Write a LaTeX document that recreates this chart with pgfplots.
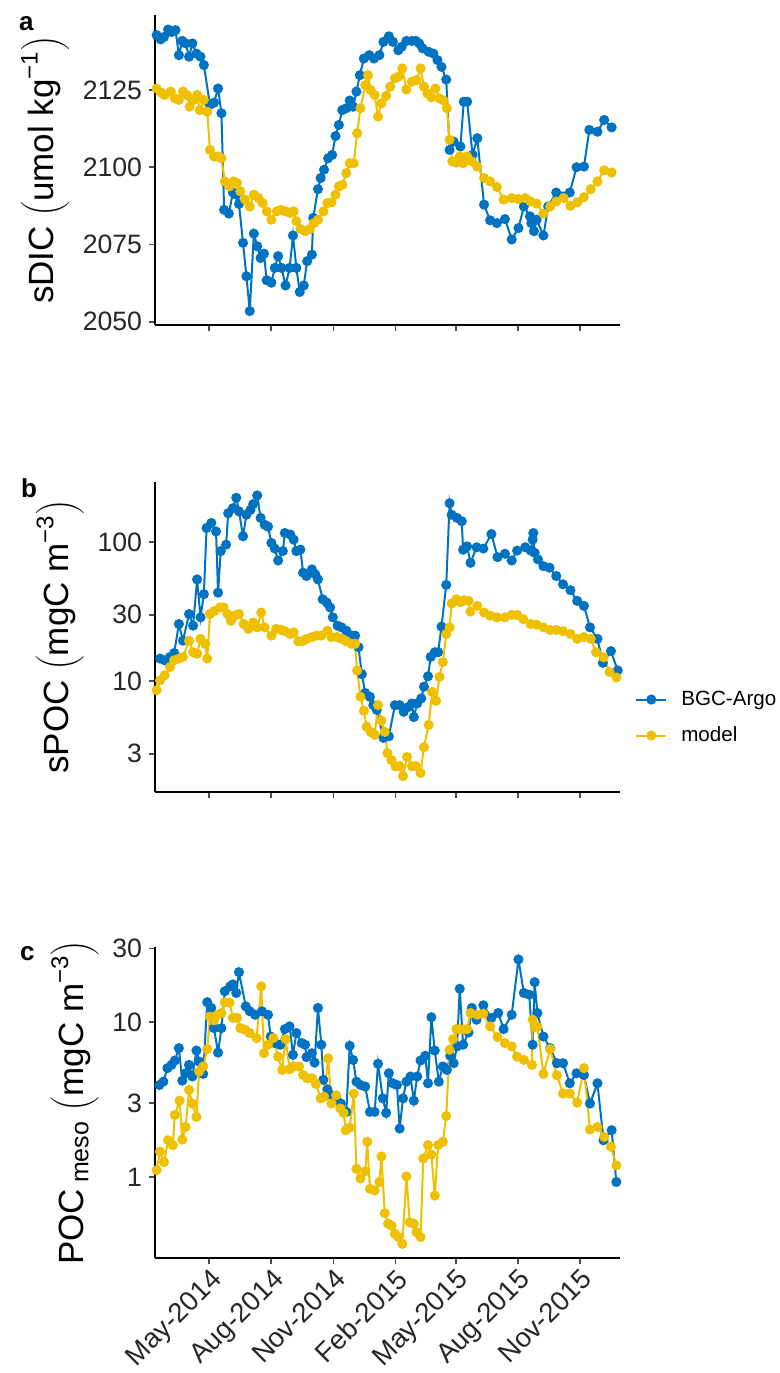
\documentclass[border=0pt]{standalone}
\usepackage{fontspec}
\setmainfont{Liberation Sans}
\usepackage{pgfplots}
\usepackage{pgfplotstable}
\pgfplotsset{compat=1.18}

\definecolor{argo}{RGB}{0,114,194}
\definecolor{model}{RGB}{239,192,0}

% x = days since 1 May 2014
\pgfplotstableread[row sep=\\]{
d v \\
-78 2142.8 \\ -72 2141.4 \\ -67 2142.2 \\ -61 2144.6 \\ -56 2143.8 \\ -50 2144.4 \\
-45 2136.3 \\ -40 2140.9 \\ -35 2140.1 \\ -30 2135.8 \\ -25 2140.1 \\ -19 2136.8 \\
-13 2135.8 \\ -8 2133.1 \\ 1 2120.2 \\ 7 2120.9 \\ 13 2125.5 \\ 18 2117.5 \\
22 2086.2 \\ 29 2085.0 \\ 35 2091.8 \\ 40 2091.1 \\ 44 2088.1 \\ 50 2075.5 \\
55 2064.7 \\ 60 2053.4 \\ 66 2078.5 \\ 71 2074.4 \\ 76 2070.6 \\ 81 2072.0 \\
85 2063.4 \\ 92 2062.6 \\ 97 2067.4 \\ 102 2071.2 \\ 107 2067.4 \\ 113 2061.7 \\
119 2067.4 \\ 124 2077.9 \\ 129 2067.4 \\ 134 2059.6 \\ 140 2061.7 \\ 145 2069.6 \\
152 2071.7 \\ 154 2083.6 \\ 161 2092.9 \\ 165 2096.5 \\ 170 2099.2 \\ 176 2102.9 \\
182 2104.0 \\ 187 2110.1 \\ 192 2113.7 \\ 197 2118.5 \\ 203 2119.1 \\ 208 2121.6 \\
213 2119.6 \\ 218 2124.5 \\ 223 2129.8 \\ 229 2135.2 \\ 237 2136.3 \\ 244 2135.2 \\
252 2136.3 \\ 258 2140.6 \\ 266 2142.4 \\ 272 2140.6 \\ 280 2137.9 \\ 285 2139.0 \\
292 2140.9 \\ 300 2140.9 \\ 306 2140.9 \\ 311 2140.1 \\ 316 2138.5 \\ 325 2137.4 \\
332 2136.8 \\ 338 2134.7 \\ 344 2132.5 \\ 351 2128.4 \\ 356 2105.6 \\ 362 2108.3 \\
372 2106.7 \\ 377 2121.2 \\ 382 2121.2 \\ 390 2104.0 \\ 397 2109.4 \\ 407 2087.9 \\
416 2082.8 \\ 426 2081.9 \\ 438 2083.2 \\ 448 2076.6 \\ 458 2080.3 \\ 466 2087.3 \\
475 2084.1 \\ 477 2081.9 \\ 481 2079.3 \\ 485 2083.0 \\ 495 2077.9 \\ 502 2087.3 \\
514 2091.8 \\ 534 2091.8 \\ 544 2100.0 \\ 555 2100.2 \\ 563 2112.1 \\ 575 2111.5 \\
585 2115.3 \\ 596 2112.9 \\
}\dicargo

\pgfplotstableread[row sep=\\]{
d v \\
-78 2125.5 \\ -71 2124.1 \\ -66 2123.4 \\ -57 2124.5 \\ -51 2122.3 \\ -45 2121.8 \\
-39 2124.5 \\ -33 2123.4 \\ -29 2119.6 \\ -23 2121.8 \\ -18 2123.4 \\ -14 2118.5 \\
-8 2121.8 \\ -3 2118.0 \\ 1 2105.6 \\ 7 2103.5 \\ 13 2103.5 \\ 18 2102.9 \\
23 2095.4 \\ 30 2093.8 \\ 36 2095.4 \\ 41 2094.9 \\ 46 2092.2 \\ 53 2089.5 \\
60 2087.3 \\ 66 2091.1 \\ 73 2090.0 \\ 79 2088.4 \\ 85 2085.7 \\ 92 2083.0 \\
100 2085.7 \\ 106 2086.2 \\ 113 2085.7 \\ 120 2085.2 \\ 125 2085.7 \\ 129 2082.5 \\
135 2080.0 \\ 142 2079.3 \\ 149 2080.0 \\ 155 2081.9 \\ 161 2083.0 \\ 169 2085.7 \\
175 2088.4 \\ 181 2088.6 \\ 187 2091.1 \\ 192 2093.8 \\ 197 2094.3 \\ 203 2098.1 \\
208 2101.3 \\ 214 2101.3 \\ 219 2111.0 \\ 224 2119.1 \\ 231 2126.6 \\ 235 2129.8 \\
239 2125.0 \\ 245 2123.4 \\ 250 2116.4 \\ 255 2120.7 \\ 262 2123.1 \\ 268 2126.1 \\
275 2128.8 \\ 280 2129.3 \\ 286 2132.0 \\ 292 2125.2 \\ 300 2127.7 \\ 307 2128.2 \\
313 2132.0 \\ 318 2126.1 \\ 323 2123.9 \\ 329 2122.6 \\ 335 2125.5 \\ 341 2122.3 \\
347 2121.6 \\ 352 2119.1 \\ 356 2108.9 \\ 360 2101.9 \\ 366 2101.5 \\ 371 2103.5 \\
376 2101.3 \\ 382 2103.5 \\ 389 2101.9 \\ 397 2100.2 \\ 407 2096.5 \\ 416 2095.4 \\
426 2093.6 \\ 436 2089.5 \\ 448 2090.0 \\ 458 2089.7 \\ 468 2090.0 \\ 476 2088.9 \\
485 2088.2 \\ 495 2085.0 \\ 505 2087.3 \\ 514 2088.9 \\ 525 2090.0 \\ 535 2087.5 \\
545 2088.6 \\ 555 2090.3 \\ 565 2092.9 \\ 575 2095.4 \\ 585 2099.0 \\ 596 2098.3 \\
}\dicmodel

\pgfplotstableread[row sep=\\]{
d v \\
-73 14.5 \\ -66 14.1 \\ -58 14.9 \\ -52 15.9 \\ -45 25.7 \\ -39 19.5 \\ -30 30.3 \\
-24 25.0 \\ -18 53.8 \\ -13 28.7 \\ -8 42.1 \\ -4 126 \\ 3 137 \\ 10 119 \\ 13 43.2 \\
17 86 \\ 25 95.7 \\ 28 161 \\ 35 175 \\ 40 208 \\ 44 166 \\ 50 110 \\ 55 157 \\
61 170 \\ 65 187 \\ 71 216 \\ 76 149 \\ 82 133 \\ 87 129 \\ 92 98.5 \\ 97 89.7 \\
102 73.6 \\ 109 86 \\ 112 116 \\ 120 113 \\ 125 104 \\ 129 86 \\ 135 88.2 \\ 139 60.1 \\
144 56.9 \\ 152 63.5 \\ 157 58.5 \\ 161 53.8 \\ 168 38.7 \\ 174 36.7 \\ 179 33.8 \\
183 28.7 \\ 190 25.0 \\ 196 24.3 \\ 203 23.0 \\ 211 21.2 \\ 216 21.2 \\ 221 17.5 \\
226 11.2 \\ 231 8.2 \\ 238 7.7 \\ 243 6.7 \\ 248 6.2 \\ 258 3.9 \\ 266 4.0 \\
275 6.7 \\ 282 6.7 \\ 288 6.0 \\ 295 6.5 \\ 300 6.9 \\ 303 5.5 \\ 308 6.9 \\ 314 7.5 \\
318 9.1 \\ 324 10.8 \\ 328 14.9 \\ 334 16.1 \\ 339 16.1 \\ 344 24.6 \\ 351 49.1 \\
356 190 \\ 359 157 \\ 367 149 \\ 374 141 \\ 376 88 \\ 382 93 \\ 387 70.8 \\ 396 91.6 \\
406 89.7 \\ 418 114 \\ 427 77.8 \\ 438 82.2 \\ 448 73.6 \\ 456 86.7 \\ 468 91.6 \\
476 86.7 \\ 479 104 \\ 480 116 \\ 482 83.6 \\ 487 74.8 \\ 495 67 \\ 504 65.3 \\
514 56.9 \\ 524 49.6 \\ 535 45 \\ 545 37.7 \\ 555 34.7 \\ 564 24.3 \\ 575 20.1 \\
583 13.5 \\ 595 16.4 \\ 605 11.9 \\
}\pocargo

\pgfplotstableread[row sep=\\]{
d v \\
-78 8.6 \\ -73 10.1 \\ -66 11.0 \\ -58 12.6 \\ -52 14.1 \\ -45 14.5 \\ -39 14.9 \\
-30 19.5 \\ -24 16.1 \\ -18 15.7 \\ -13 20.1 \\ -6 18.5 \\ -3 14.5 \\ 1 30.3 \\
8 32.0 \\ 16 33.8 \\ 21 33.8 \\ 27 30.3 \\ 32 27.1 \\ 38 29.5 \\ 44 30.3 \\ 51 25.7 \\
58 23.7 \\ 65 26.4 \\ 71 24.3 \\ 77 31.1 \\ 82 24.3 \\ 92 21.2 \\ 99 23.7 \\ 106 23.3 \\
112 22.8 \\ 120 21.8 \\ 125 22.4 \\ 132 19.3 \\ 138 19.3 \\ 144 20.1 \\ 152 20.7 \\
159 21.2 \\ 166 21.2 \\ 175 23.0 \\ 181 20.7 \\ 189 20.7 \\ 196 20.1 \\ 203 19.3 \\
211 18.5 \\ 216 18.5 \\ 219 11.9 \\ 224 7.7 \\ 229 6.1 \\ 233 4.7 \\ 239 4.3 \\
245 4.1 \\ 250 6.7 \\ 255 5.2 \\ 260 4.3 \\ 264 3.03 \\ 270 2.7 \\ 276 2.43 \\
282 2.44 \\ 287 2.07 \\ 293 2.84 \\ 300 2.44 \\ 306 2.44 \\ 313 2.18 \\ 318 3.34 \\
325 4.83 \\ 330 8.35 \\ 336 7.2 \\ 341 10.7 \\ 346 13.7 \\ 351 21.8 \\ 356 24.3 \\
359 36.1 \\ 366 38.7 \\ 372 36.9 \\ 377 38.1 \\ 384 37.7 \\ 387 31.6 \\ 397 34.7 \\
407 31.1 \\ 416 29.5 \\ 426 28.7 \\ 438 28.7 \\ 448 29.9 \\ 456 29.9 \\ 465 27.9 \\
476 25.7 \\ 485 25.4 \\ 495 24.3 \\ 505 23.3 \\ 514 23.3 \\ 524 22.8 \\ 535 21.8 \\
545 20.1 \\ 555 20.7 \\ 565 20.1 \\ 573 16.1 \\ 584 14.8 \\ 593 11.6 \\ 603 10.6 \\
}\pocmodel

\pgfplotstableread[row sep=\\]{
d v \\
-74 3.94 \\ -68 4.14 \\ -62 5.06 \\ -56 5.31 \\ -51 5.67 \\ -45 6.82 \\ -40 4.2 \\
-35 4.69 \\ -30 5.31 \\ -25 4.47 \\ -19 6.58 \\ -15 5.58 \\ -9 4.65 \\ -3 13.5 \\
3 12.4 \\ 7 9.18 \\ 13 6.38 \\ 18 9.18 \\ 23 15.9 \\ 31 17.1 \\ 35 17.6 \\ 40 15.5 \\
44 21.1 \\ 54 12.7 \\ 60 11.8 \\ 68 11.2 \\ 78 11.8 \\ 87 11.2 \\ 91 8.1 \\ 97 7.35 \\
105 7.17 \\ 112 9.06 \\ 119 9.42 \\ 124 6.17 \\ 129 8.53 \\ 137 7.35 \\ 142 7.17 \\
144 5.96 \\ 152 6.32 \\ 156 5.5 \\ 161 12.4 \\ 166 7.17 \\ 169 4.25 \\ 175 3.69 \\
181 3.39 \\ 188 3.23 \\ 195 2.99 \\ 203 2.64 \\ 208 7.06 \\ 213 5.72 \\ 218 4.14 \\
224 3.94 \\ 231 3.85 \\ 238 2.64 \\ 245 2.64 \\ 250 5.4 \\ 257 3.23 \\ 262 2.6 \\
266 4.69 \\ 272 4.04 \\ 278 3.94 \\ 282 2.06 \\ 287 3.23 \\ 292 4.14 \\ 298 4.47 \\
303 3.12 \\ 308 4.47 \\ 313 5.67 \\ 320 6.08 \\ 324 4.04 \\ 329 10.8 \\ 334 6.58 \\
340 4.14 \\ 346 5.19 \\ 352 4.93 \\ 357 6.08 \\ 362 5.45 \\ 367 6.99 \\ 371 16.5 \\
376 7.17 \\ 384 8.6 \\ 389 12.4 \\ 396 10.4 \\ 406 12.9 \\ 418 10.7 \\ 428 11.5 \\
436 9.06 \\ 448 11.2 \\ 458 25.5 \\ 466 15.5 \\ 474 15.1 \\ 479 7.17 \\ 482 18.2 \\
486 11.5 \\ 495 8.1 \\ 505 6.82 \\ 515 5.45 \\ 524 5.45 \\ 534 4.04 \\ 544 4.69 \\
555 4.57 \\ 564 2.99 \\ 575 4.04 \\ 584 1.73 \\ 596 2.01 \\ 603 0.93 \\
}\mesoargo

\pgfplotstableread[row sep=\\]{
d v \\
-78 1.11 \\ -73 1.46 \\ -67 1.25 \\ -61 1.73 \\ -54 1.61 \\ -51 2.52 \\ -44 3.12 \\
-40 1.75 \\ -35 2.11 \\ -30 3.66 \\ -25 2.99 \\ -19 2.45 \\ -15 4.81 \\ -9 5.19 \\
-3 6.72 \\ 1 10.9 \\ 7 10.3 \\ 13 11.2 \\ 18 11.5 \\ 23 13.5 \\ 30 13.4 \\ 35 10.7 \\
41 10.7 \\ 46 9.18 \\ 53 8.97 \\ 60 8.53 \\ 70 7.92 \\ 77 17.1 \\ 81 6.32 \\ 87 7.17 \\
95 7.92 \\ 102 6.0 \\ 108 4.93 \\ 113 7.8 \\ 119 4.98 \\ 125 5.19 \\ 133 5.19 \\
139 4.57 \\ 145 4.35 \\ 152 4.35 \\ 158 4.0 \\ 165 3.23 \\ 170 3.31 \\ 176 5.87 \\
181 2.99 \\ 188 3.38 \\ 194 2.78 \\ 199 2.6 \\ 202 2.01 \\ 208 2.09 \\ 214 3.47 \\
218 1.13 \\ 224 0.98 \\ 231 1.09 \\ 234 1.69 \\ 238 0.84 \\ 245 0.82 \\ 252 0.93 \\
255 1.36 \\ 260 0.585 \\ 265 0.50 \\ 270 0.485 \\ 275 0.43 \\ 280 0.41 \\ 286 0.37 \\
292 1.01 \\ 297 0.51 \\ 303 0.50 \\ 307 0.44 \\ 313 0.41 \\ 317 1.32 \\ 324 1.61 \\
329 1.40 \\ 334 0.76 \\ 339 1.61 \\ 346 1.69 \\ 351 2.48 \\ 356 6.65 \\ 361 7.8 \\
366 9.06 \\ 371 9.06 \\ 377 9.0 \\ 382 9.06 \\ 387 11.5 \\ 397 11.2 \\ 406 11.4 \\
416 9.42 \\ 427 8.04 \\ 438 7.35 \\ 448 6.99 \\ 456 6.0 \\ 466 5.72 \\ 478 5.31 \\
479 10.4 \\ 482 9.33 \\ 486 9.4 \\ 495 4.65 \\ 505 6.72 \\ 515 4.55 \\ 524 3.47 \\
534 3.47 \\ 545 3.03 \\ 555 5.06 \\ 564 2.03 \\ 575 2.11 \\ 585 1.82 \\ 595 1.57 \\
603 1.19 \\
}\mesomodel

\pgfplotsset{
  panel/.style={
    scale only axis, width=232.5pt, height=155pt,
    xmin=-80.4, xmax=608.4,
    axis x line=bottom, axis y line=left,
    axis line style={-, line width=1.2pt, black},
    tick align=outside,
    major tick length=3pt,
    tick style={line width=0.9pt, black!70},
    minor tick style={draw=none},
    xtick={0,92,184,276,365,457,549},
    xticklabels={},
    tick label style={font=\fontsize{13.3}{15}\selectfont, text=black!85},
    ylabel style={font=\fontsize{17.5}{20}\selectfont},
    clip=false,
  },
  argoline/.style={color=argo, line width=1pt, mark=*, mark size=2pt,
    mark options={solid, fill=argo, draw=argo}},
  modelline/.style={color=model, line width=1pt, mark=*, mark size=2pt,
    mark options={solid, fill=model, draw=model}},
}

\begin{document}
\begin{tikzpicture}
\useasboundingbox (0,0) rectangle (390pt,-686.5pt);

% panel a: sDIC
\begin{axis}[panel, at={(77.5pt,-162.5pt)}, anchor=south west,
  ymin=2048.9, ymax=2149.3,
  ytick={2050,2075,2100,2125}, yticklabels={2050,2075,2100,2125},
  ylabel={sDIC\ $\left(\mbox{umol kg}^{\mbox{\fontsize{12}{12}\selectfont −1}}\right)$}]
\addplot[argoline] table[x=d, y=v] {\dicargo};
\addplot[modelline] table[x=d, y=v] {\dicmodel};
\end{axis}

% panel b: sPOC
\begin{axis}[panel, at={(77.5pt,-396pt)}, anchor=south west,
  ymode=log, ymin=1.59, ymax=270,
  ytick={3,10,30,100}, yticklabels={3,10,30,100},
  ylabel={sPOC\ $\left(\mbox{mgC m}^{\mbox{\fontsize{12}{12}\selectfont −3}}\right)$},
  legend cell align=left,
  legend style={at={(1.032,0.340)}, anchor=north west, draw=none, fill=none,
    font=\fontsize{10.3}{12}\selectfont, row sep=5.5pt, column sep=6pt, inner sep=0pt,
    nodes={inner sep=1pt, text height=8pt, text depth=2.5pt}},
  legend image code/.code={\draw[#1, mark repeat=2, mark phase=2]
    plot coordinates {(0pt,0pt) (7.5pt,0pt) (15pt,0pt)};}]
\addplot[argoline] table[x=d, y=v] {\pocargo};
\addlegendentry{BGC-Argo}
\addplot[modelline] table[x=d, y=v] {\pocmodel};
\addlegendentry{model}
\end{axis}

% panel c: mesopelagic POC
\begin{axis}[panel, at={(77.5pt,-629pt)}, anchor=south west, height=155.5pt,
  ymode=log, ymin=0.30, ymax=30.7,
  ytick={1,3,10,30}, yticklabels={1,3,10,30},
  xticklabels={May-2014,Aug-2014,Nov-2014,Feb-2015,May-2015,Aug-2015,Nov-2015},
  xticklabel style={rotate=45, anchor=north east, inner sep=1pt,
    font=\fontsize{13.7}{15}\selectfont},
  ylabel={POC\,$_{\mbox{\fontsize{12.5}{12.5}\selectfont meso}}$\ $\left(\mbox{mgC m}^{\mbox{\fontsize{12}{12}\selectfont −3}}\right)$}]
\addplot[argoline] table[x=d, y=v] {\mesoargo};
\addplot[modelline] table[x=d, y=v] {\mesomodel};
\end{axis}

\node[anchor=base west, font=\bfseries\fontsize{13}{13}\selectfont] at (6pt,-15pt) {a};
\node[anchor=base west, font=\bfseries\fontsize{13}{13}\selectfont] at (7pt,-248.5pt) {b};
\node[anchor=base west, font=\bfseries\fontsize{13}{13}\selectfont] at (6.5pt,-480pt) {c};
\end{tikzpicture}
\end{document}
